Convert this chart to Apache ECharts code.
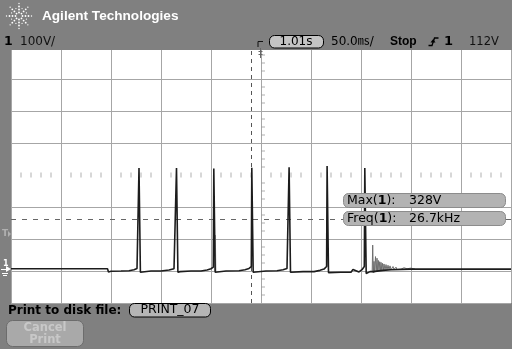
<!DOCTYPE html>
<html><head><meta charset="utf-8">
<script src="https://cdn.jsdelivr.net/npm/echarts@6/dist/echarts.min.js"></script>
<style>html,body{margin:0;padding:0;background:#808080}#c{width:512px;height:349px}</style>
</head><body><div id="c"></div>
<script>
// Time axis: 50 ms/div, 10 divisions (0..500 ms); Voltage: 100 V/div, 8 divisions
const timeTicks = [0,50,100,150,200,250,300,350,400,450,500];
const voltTicks = [-100,0,100,200,300,400,500,600,700];

// main trace (ms, V)
const traceTime = [0,96.5,97.5,100,110,118,123,126,127.5,128,128.8,129.4,131,
  140,150,158,163,165,165.5,166.3,166.9,169,
  180,190,196,200,202.3,202.8,203.6,204.2,206,
  215,228,234,238,240.3,240.8,241.6,242.2,244,
  255,266,272,276,277.6,278.1,278.9,279.5,281,
  292,303,309,313,315.6,316.1,316.9,317.5,319,
  330,340,342,348,351,353.3,353.8,354.6,355.2,357,359,
  362,372,380,400,420,460,500];
const traceVolt = [7,7,-3,-1,0,1,4,8,12,322,322,-4,-2,
  0,0,3,7,12,322,322,-4,-2,
  0,0,3,7,12,320,320,-4,-2,
  0,1,4,8,14,323,323,-4,-2,
  0,1,4,8,14,324,324,-4,-2,
  -2,-2,2,6,14,328,328,-5,-3,
  -4,-4,5,-3,4,14,322,322,-8,-5,-2,
  -2,2,4,6,6,6,6];

// ringing after last pulse (aliased, drawn lighter)
const ringTime = [361.2,361.7,362.3,363,363.6,364.5,365.2,366,366.6,367.3,368,368.7,369.4,370,370.8,371.5,372.3,373,374,375,376,377,378,379,380,382,383,385,386,388,390,393,396,400,404];
const ringVolt = [-3,81,-6,30,-4,45,-3,40,-2,33,0,29,0,27,1,24,2,22,3,20,3,18,4,16,4,14,5,12,5,11,6,10,7,9,6];

// faint second pass on one pulse
const ghostTime = [203.9,204.3,204.9];
const ghostVolt = [0,112,0];

// markers
const trigLevel = 162;      // V (dashed horizontal)
const trigTime = 240;       // ms (dashed vertical)

const measLabels = ['Max', 'Freq'];
const measValues = ['328V', '26.7kHz'];

const hTicks = [], vTicks = [];
for (let t = 10; t < 500; t += 10) if (t % 50) hTicks.push([t, 300]);
for (let v = -75; v < 700; v += 25) if (v % 100) vTicks.push([250, v]);

const gridC = '#a6a6a6';
const T = '#808080';

const g = [];
g.push({type:'rect', z:100, shape:{x:0,y:0,width:512,height:50}, style:{fill:T}});
// logo starburst
for (let k = 0; k < 8; k++) {
  const a = k * Math.PI / 4;
  [3.5,6.5,9.5,12.5].forEach((r,i) => {
    g.push({type:'circle', z:101, shape:{cx:19 + r*Math.cos(a), cy:16 + r*Math.sin(a), r: i===3?0.7:0.9}, style:{fill:'#fff'}});
  });
}
for (let k = 0; k < 8; k++) {
  const a = k * Math.PI / 4 + Math.PI/8;
  g.push({type:'circle', z:101, shape:{cx:19 + 8*Math.cos(a), cy:16 + 8*Math.sin(a), r:0.6}, style:{fill:'#fff'}});
}
g.push({type:'text', z:101, x:42, y:16, style:{text:'Agilent Technologies', fill:'#fff', font:'bold 13.6px "Liberation Sans"', textVerticalAlign:'middle'}});
g.push({type:'text', z:101, x:4, y:42, style:{text:'1', fill:'#000', font:'bold 12.5px "DejaVu Sans"', textVerticalAlign:'middle'}});
g.push({type:'text', z:101, x:20, y:42, style:{text:'100V/', fill:'#111', font:'12px "DejaVu Sans"', textVerticalAlign:'middle'}});
// trigger position marker
g.push({type:'polyline', z:101, shape:{points:[[258,47],[258,41.5],[263,41.5]]}, style:{stroke:'#111', lineWidth:1, fill:null}});
g.push({type:'rect', z:101, shape:{x:269.5,y:35.5,width:54,height:12.5,r:5}, style:{fill:'#c4c4c4', stroke:'#000', lineWidth:1}});
g.push({type:'text', z:102, x:296, y:42, style:{text:'1.01s', fill:'#000', font:'12px "DejaVu Sans"', textAlign:'center', textVerticalAlign:'middle'}});
g.push({type:'text', z:101, x:331, y:42, style:{text:'50.0㎳/', fill:'#000', font:'12px "DejaVu Sans","Noto Sans CJK JP"', textVerticalAlign:'middle'}});
g.push({type:'text', z:101, x:390, y:42, style:{text:'Stop', fill:'#000', font:'bold 12px "Liberation Sans"', textVerticalAlign:'middle'}});
g.push({type:'polyline', z:101, shape:{points:[[428.5,45.5],[432,45.5],[434.5,38],[438.5,38]]}, style:{stroke:'#000', lineWidth:1.3, fill:null}});
g.push({type:'polygon', z:101, shape:{points:[[430.5,42.5],[433.2,39],[435.5,42.5]]}, style:{fill:'#000'}});
g.push({type:'text', z:101, x:444, y:42, style:{text:'1', fill:'#000', font:'bold 13px "DejaVu Sans"', textVerticalAlign:'middle'}});
g.push({type:'text', z:101, x:469, y:42, style:{text:'112V', fill:'#111', font:'11.5px "DejaVu Sans"', textVerticalAlign:'middle'}});
// trigger marker on top edge
g.push({type:'line', z:101, shape:{x1:260.5,y1:48,x2:260.5,y2:58}, style:{stroke:'#666', lineWidth:1}});
g.push({type:'line', z:101, shape:{x1:258.5,y1:51.5,x2:262.5,y2:51.5}, style:{stroke:'#666', lineWidth:1}});
g.push({type:'line', z:101, shape:{x1:258.5,y1:54.5,x2:262.5,y2:54.5}, style:{stroke:'#666', lineWidth:1}});
// left markers
g.push({type:'text', z:101, x:2, y:234, style:{text:'T', fill:'#b0b0b0', font:'bold 9px "DejaVu Sans"', textVerticalAlign:'middle'}});
g.push({type:'polygon', z:101, shape:{points:[[8,231],[11,234],[8,237]]}, style:{fill:'#b0b0b0'}});
g.push({type:'text', z:101, x:3, y:264, style:{text:'1', fill:'#fff', font:'bold 8px "DejaVu Sans"', textVerticalAlign:'middle'}});
g.push({type:'polygon', z:101, shape:{points:[[6,266],[11,269],[6,272]]}, style:{fill:'#fff'}});
g.push({type:'line', z:101, shape:{x1:1,y1:269.5,x2:7,y2:269.5}, style:{stroke:'#fff', lineWidth:1}});
g.push({type:'line', z:101, shape:{x1:2,y1:273.5,x2:8,y2:273.5}, style:{stroke:'#fff', lineWidth:1}});
g.push({type:'line', z:101, shape:{x1:3,y1:275.5,x2:7,y2:275.5}, style:{stroke:'#fff', lineWidth:1}});
// measurement boxes
measLabels.forEach((m, i) => {
  const y0 = 193.5 + i * 18;
  g.push({type:'rect', z:110, shape:{x:343.5,y:y0,width:162,height:14,r:5}, style:{fill:'#b3b3b3', stroke:'#8c8c8c', lineWidth:1}});
  g.push({type:'text', z:111, x:347, y:y0+7, style:{rich:{a:{font:'12.5px "DejaVu Sans"', fill:'#000'}, b:{font:'bold 12.5px "DejaVu Sans"', fill:'#000', textDecoration:'underline'}}, text:'{a|' + m + '(}{b|1}{a|):}', textVerticalAlign:'middle'}});
  g.push({type:'text', z:111, x:409, y:y0+7, style:{text:measValues[i], fill:'#000', font:'12.5px "DejaVu Sans"', textVerticalAlign:'middle'}});
});
// bottom
g.push({type:'text', z:101, x:8, y:311, style:{text:'Print to disk file:', fill:'#000', font:'bold 12px "DejaVu Sans"', textVerticalAlign:'middle'}});
g.push({type:'rect', z:101, shape:{x:129.5,y:303.5,width:81,height:13.5,r:5}, style:{fill:'#b5b5b5', stroke:'#000', lineWidth:1}});
g.push({type:'text', z:102, x:170, y:309.5, style:{text:'PRINT_07', fill:'#000', font:'12.5px "DejaVu Sans"', textAlign:'center', textVerticalAlign:'middle'}});
g.push({type:'rect', z:101, shape:{x:6.5,y:320.5,width:77,height:26,r:6}, style:{fill:'#a9a9a9', stroke:'#6c6c6c', lineWidth:1}});
g.push({type:'text', z:102, x:45, y:328, style:{text:'Cancel', fill:'#c8c8c8', font:'bold 11.5px "DejaVu Sans"', textAlign:'center', textVerticalAlign:'middle'}});
g.push({type:'text', z:102, x:45, y:340, style:{text:'Print', fill:'#c8c8c8', font:'bold 11.5px "DejaVu Sans"', textAlign:'center', textVerticalAlign:'middle'}});

const zip = (a, b) => a.map((v, i) => [v, b[i]]);
const splitColors = voltTicks.map(v => v === 300 ? 'rgba(0,0,0,0)' : gridC);

const chart = echarts.init(document.getElementById('c'), null, {renderer:'canvas'});
chart.setOption({
  animation:false,
  backgroundColor:T,
  grid:{left:11, right:1, top:47, bottom:46, show:true, backgroundColor:'#ffffff', borderWidth:0},
  xAxis:{type:'value', min:timeTicks[0], max:timeTicks[timeTicks.length-1], interval:50,
    axisLine:{show:false}, axisTick:{show:false}, axisLabel:{show:false},
    splitLine:{show:true, lineStyle:{color:gridC, width:1}}},
  yAxis:{type:'value', min:voltTicks[0], max:voltTicks[voltTicks.length-1], interval:100,
    axisLine:{show:false}, axisTick:{show:false}, axisLabel:{show:false},
    splitLine:{show:true, lineStyle:{color:splitColors, width:1}}},
  graphic:g,
  series:[
    {type:'scatter', data:hTicks, symbol:'rect', symbolSize:[1,5], itemStyle:{color:'#9c9c9c'}, silent:true, z:1},
    {type:'scatter', data:vTicks, symbol:'rect', symbolSize:[4,1], symbolOffset:[2,0], itemStyle:{color:'#9c9c9c'}, silent:true, z:1},
    {type:'line', data:[], silent:true, z:2,
      markLine:{silent:true, symbol:'none', label:{show:false}, animation:false,
        data:[
          {xAxis:trigTime, lineStyle:{color:'#555', type:[4,4], width:1}},
          {yAxis:trigLevel, lineStyle:{color:'#666', type:[5,6], width:1}}
        ]}},
    {type:'line', data:zip(ghostTime, ghostVolt), symbol:'none', lineStyle:{color:'#9a9a9a', width:1}, z:3},
    {type:'line', data:zip(ringTime, ringVolt), symbol:'none', lineStyle:{color:'#6e6e6e', width:1}, z:4},
    {type:'line', data:zip(traceTime, traceVolt), symbol:'none', lineStyle:{color:'#1c1c1c', width:1.6}, z:5}
  ]
});
</script></body></html>
